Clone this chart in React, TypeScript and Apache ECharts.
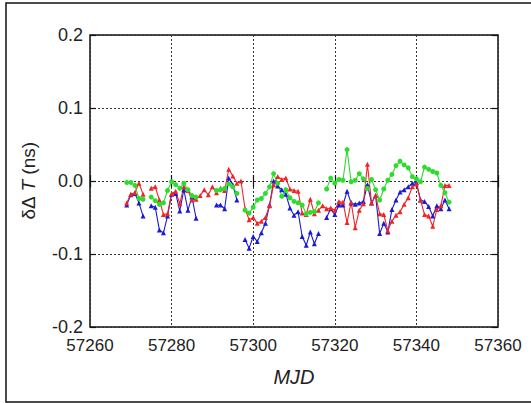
import React, { useEffect, useRef } from "react";
import * as echarts from "echarts";

const xTicks = [57260, 57280, 57300, 57320, 57340, 57360];
const yTicks = [-0.2, -0.1, 0.0, 0.1, 0.2];

const redMjd = [
  57269, 57270, 57271, 57272, 57273, 57275, 57276, 57277, 57278, 57279,
  57280, 57281, 57282, 57283, 57284, 57285, 57286, 57287, 57288, 57289,
  57290, 57291, 57292, 57293, 57294, 57295, 57296, 57297, 57298, 57299,
  57300, 57301, 57302, 57303, 57304, 57305, 57306, 57307, 57308, 57309,
  57310, 57311, 57312, 57313, 57314, 57315, 57316, 57317, 57318, 57319,
  57320, 57321, 57322, 57323, 57324, 57325, 57326, 57327, 57328, 57329,
  57330, 57331, 57332, 57333, 57334, 57335, 57336, 57337, 57338, 57339,
  57340, 57341, 57342, 57343, 57344, 57345, 57346, 57347, 57348,
];
const redVal = [
  -0.030, -0.018, -0.016, -0.003, -0.018, -0.010, -0.008, -0.026, -0.046, -0.045,
  -0.017, -0.014, -0.031, -0.008, -0.013, -0.026, -0.025, -0.020, -0.012, -0.019,
  -0.008, -0.016, -0.010, -0.013, 0.016, 0.007, -0.003, 0.000, -0.038, -0.053,
  -0.050, -0.058, -0.055, -0.050, -0.034, -0.005, 0.006, 0.002, 0.004, -0.011,
  -0.013, -0.014, -0.044, -0.046, -0.025, -0.045, -0.040, -0.034, -0.038, -0.037,
  -0.040, -0.028, -0.029, -0.057, -0.029, -0.064, -0.040, -0.031, 0.023, -0.030,
  -0.020, -0.045, -0.046, -0.068, -0.055, -0.047, -0.042, -0.032, -0.023, -0.008,
  -0.004, -0.026, -0.046, -0.048, -0.062, -0.039, -0.034, -0.006, -0.006,
];

const blueMjd = [
  57269, 57270, 57271, 57272, 57273, 57275, 57276, 57277, 57278, 57279,
  57280, 57281, 57282, 57283, 57284, 57285, 57286, 57291, 57292, 57293,
  57294, 57295, 57296, 57298, 57299, 57300, 57301, 57302, 57303, 57304,
  57305, 57306, 57307, 57308, 57309, 57310, 57311, 57312, 57313, 57314,
  57315, 57316, 57318, 57319, 57320, 57321, 57322, 57323, 57324, 57325,
  57326, 57327, 57328, 57329, 57330, 57331, 57332, 57333, 57334, 57335,
  57336, 57337, 57338, 57339, 57340, 57341, 57342, 57343, 57344, 57345,
  57346, 57347, 57348,
];
const blueVal = [
  -0.033, -0.019, -0.017, -0.030, -0.048, -0.034, -0.036, -0.067, -0.071, -0.048,
  -0.018, -0.017, -0.041, -0.012, -0.040, -0.022, -0.051, -0.033, -0.033, -0.038,
  0.004, -0.005, -0.026, -0.080, -0.092, -0.076, -0.083, -0.071, -0.058, -0.033,
  0.000, -0.007, -0.012, -0.018, -0.037, -0.047, -0.042, -0.076, -0.088, -0.070,
  -0.086, -0.072, -0.050, -0.038, -0.046, -0.033, -0.033, -0.014, -0.030, -0.032,
  -0.030, -0.028, -0.005, -0.030, -0.020, -0.072, -0.058, -0.070, -0.039, -0.026,
  -0.015, -0.012, -0.008, -0.003, -0.002, -0.026, -0.028, -0.035, -0.048, -0.034,
  -0.038, -0.026, -0.038,
];

const greenMjd = [
  57269, 57270, 57271, 57272, 57273, 57275, 57276, 57277, 57278, 57279,
  57280, 57281, 57282, 57283, 57284, 57285, 57286, 57291, 57292, 57293,
  57294, 57295, 57296, 57298, 57299, 57300, 57301, 57302, 57303, 57304,
  57305, 57306, 57307, 57308, 57309, 57310, 57311, 57312, 57313, 57314,
  57315, 57316, 57318, 57319, 57320, 57321, 57322, 57323, 57324, 57325,
  57326, 57327, 57328, 57329, 57330, 57331, 57332, 57333, 57334, 57335,
  57336, 57337, 57338, 57339, 57340, 57341, 57342, 57343, 57344, 57345,
  57346, 57347, 57348,
];
const greenVal = [
  -0.002, -0.002, -0.006, -0.024, -0.025, -0.022, -0.027, -0.032, -0.030, -0.013,
  -0.001, -0.005, -0.010, -0.003, -0.012, -0.020, -0.022, -0.013, -0.012, -0.010,
  -0.004, -0.008, -0.017, -0.040, -0.044, -0.036, -0.026, -0.024, -0.017, -0.008,
  0.010, -0.003, -0.021, -0.012, -0.023, -0.028, -0.030, -0.033, -0.045, -0.043,
  -0.042, -0.030, -0.011, 0.004, -0.003, 0.002, 0.001, 0.043, -0.001, 0.001,
  0.010, 0.003, -0.010, 0.002, -0.012, -0.026, -0.011, 0.001, 0.009, 0.021,
  0.027, 0.022, 0.018, 0.006, 0.003, -0.001, 0.019, 0.016, 0.013, 0.011,
  -0.006, -0.016, -0.029,
];

// break lines across missing days
function withGaps(mjd: number[], val: number[]) {
  const out: (number | null)[][] = [];
  for (let i = 0; i < mjd.length; i++) {
    if (i > 0 && mjd[i] - mjd[i - 1] > 1) out.push([null as any, null as any]);
    out.push([mjd[i], val[i]]);
  }
  return out;
}

export default function App() {
  const ref = useRef<HTMLDivElement>(null);
  useEffect(() => {
    document.body.style.margin = "0";
    const chart = echarts.init(ref.current!, null, { renderer: "svg" });
    const font = "Liberation Sans, Arial, sans-serif";
    const mkSeries = (name: string, mjd: number[], val: number[], color: string, symbol: string, size: number) => ({
      name,
      type: "line",
      data: withGaps(mjd, val),
      connectNulls: false,
      symbol,
      symbolSize: size,
      showSymbol: true,
      lineStyle: { color, width: 1.1 },
      itemStyle: { color, borderWidth: 0 },
      emphasis: { disabled: true },
    });
    const xBase = {
      type: "value",
      min: xTicks[0],
      max: xTicks[xTicks.length - 1],
      interval: 20,
    };
    const yBase = {
      type: "value",
      min: yTicks[0],
      max: yTicks[yTicks.length - 1],
      interval: 0.1,
    };
    chart.setOption({
      animation: false,
      backgroundColor: "#fff",
      grid: {
        left: 90,
        right: 33,
        top: 35,
        bottom: 76,
        show: true,
        borderColor: "#111",
        borderWidth: 1.5,
        backgroundColor: "transparent",
      },
      graphic: [
        {
          type: "rect",
          shape: { x: 6, y: 3, width: 700, height: 399 },
          style: { fill: "none", stroke: "#111", lineWidth: 1.5 },
          silent: true,
        },
      ],
      xAxis: [
        {
          ...xBase,
          position: "bottom",
          name: "MJD",
          nameLocation: "middle",
          nameGap: 40,
          nameTextStyle: { fontFamily: font, fontSize: 20, fontStyle: "italic", color: "#222" },
          axisLine: { show: false },
          axisTick: { show: true, inside: true, length: 6, lineStyle: { color: "#111", width: 1.2 } },
          axisLabel: {
            margin: 10,
            fontFamily: font,
            fontSize: 17,
            color: "#222",
            formatter: (v: number) => String(v),
          },
          splitLine: { show: true, lineStyle: { color: "#333", type: [2, 2], width: 1 } },
        },
        {
          ...xBase,
          position: "top",
          axisLine: { show: false },
          axisTick: { show: true, inside: true, length: 6, lineStyle: { color: "#111", width: 1.2 } },
          axisLabel: { show: false },
          splitLine: { show: false },
        },
      ],
      yAxis: [
        {
          ...yBase,
          position: "left",
          name: "{a|δΔ }{b|T}{a| (ns)}",
          nameLocation: "middle",
          nameGap: 52,
          nameRotate: 90,
          nameTextStyle: {
            rich: {
              a: { fontFamily: font, fontSize: 19, color: "#222" },
              b: { fontFamily: font, fontSize: 19, color: "#222", fontStyle: "italic" },
            },
          },
          axisLine: { show: false },
          axisTick: { show: true, inside: true, length: 6, lineStyle: { color: "#111", width: 1.2 } },
          axisLabel: {
            margin: 7,
            fontFamily: font,
            fontSize: 18,
            color: "#222",
            formatter: (v: number) => v.toFixed(1),
          },
          splitLine: { show: true, lineStyle: { color: "#333", type: [2, 2], width: 1 } },
        },
        {
          ...yBase,
          position: "right",
          axisLine: { show: false },
          axisTick: { show: true, inside: true, length: 6, lineStyle: { color: "#111", width: 1.2 } },
          axisLabel: { show: false },
          splitLine: { show: false },
        },
      ],
      series: [
        mkSeries("blue", blueMjd, blueVal, "#1a1ad6", "triangle", 5),
        mkSeries("red", redMjd, redVal, "#f02424", "triangle", 5),
        mkSeries("green", greenMjd, greenVal, "#2edc2e", "circle", 5),
      ],
    });
    return () => chart.dispose();
  }, []);
  return <div ref={ref} style={{ width: 531, height: 403 }} />;
}
